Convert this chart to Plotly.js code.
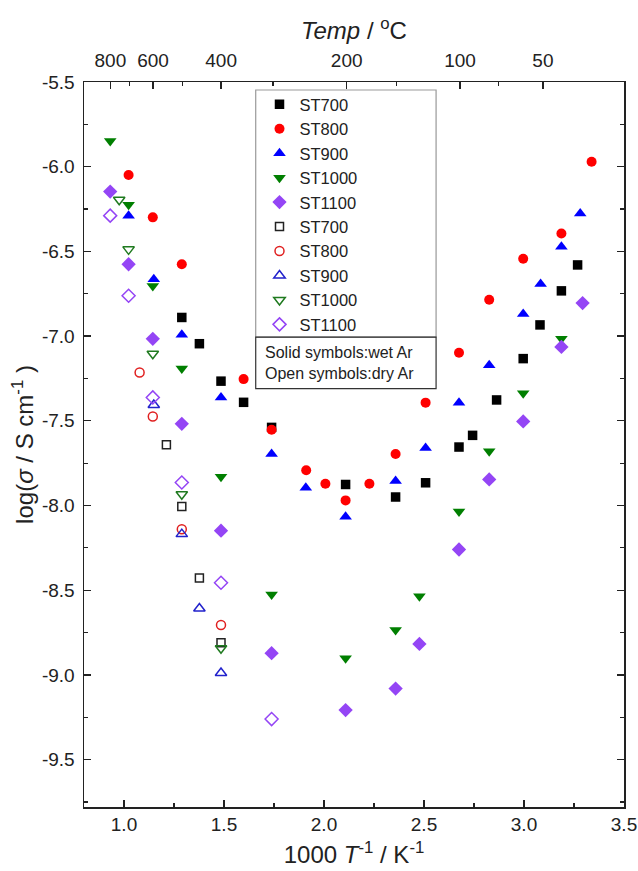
<!DOCTYPE html>
<html>
<head>
<meta charset="utf-8">
<script src="https://cdn.plot.ly/plotly-3.0.1.min.js"></script>
<style>
  html, body { margin: 0; padding: 0; background: #fff; }
  #chart { width: 638px; height: 871px; }
</style>
</head>
<body>
<div id="chart"></div>
<script>
// ---- Data (1000/T in K^-1, log conductivity in S/cm) ----
// Solid symbols: wet Ar
const st700_wet_x  = [1.289, 1.377, 1.485, 1.598, 1.738, 2.108, 2.358, 2.508, 2.675, 2.743, 2.863, 2.996, 3.080, 3.187, 3.268];
const st700_wet_y  = [-6.89, -7.045, -7.266, -7.391, -7.539, -7.876, -7.950, -7.866, -7.655, -7.586, -7.377, -7.133, -6.934, -6.733, -6.580];

const st800_wet_x  = [1.023, 1.144, 1.289, 1.598, 1.738, 1.911, 2.007, 2.108, 2.227, 2.358, 2.508, 2.675, 2.826, 2.996, 3.187, 3.338];
const st800_wet_y  = [-6.049, -6.299, -6.576, -7.254, -7.553, -7.792, -7.872, -7.970, -7.872, -7.696, -7.393, -7.098, -6.785, -6.543, -6.394, -5.971];

const st900_wet_x  = [1.023, 1.149, 1.289, 1.485, 1.738, 1.909, 2.108, 2.358, 2.508, 2.675, 2.826, 2.996, 3.083, 3.187, 3.281];
const st900_wet_y  = [-6.289, -6.664, -6.992, -7.363, -7.696, -7.895, -8.067, -7.856, -7.661, -7.393, -7.172, -6.869, -6.693, -6.472, -6.277];

const st1000_wet_x = [0.931, 1.023, 1.144, 1.289, 1.485, 1.738, 2.108, 2.358, 2.477, 2.675, 2.826, 2.996, 3.187];
const st1000_wet_y = [-5.848, -6.224, -6.705, -7.192, -7.831, -8.525, -8.902, -8.735, -8.536, -8.036, -7.680, -7.338, -7.016];

const st1100_wet_x = [0.931, 1.023, 1.144, 1.289, 1.485, 1.738, 2.108, 2.358, 2.477, 2.675, 2.826, 2.996, 3.187, 3.293];
const st1100_wet_y = [-6.147, -6.576, -7.016, -7.518, -8.149, -8.872, -9.208, -9.081, -8.817, -8.260, -7.846, -7.504, -7.064, -6.805];

// Open symbols: dry Ar
const st700_dry_x  = [1.212, 1.289, 1.377, 1.485];
const st700_dry_y  = [-7.641, -8.006, -8.428, -8.810];

const st800_dry_x  = [1.078, 1.144, 1.289, 1.485];
const st800_dry_y  = [-7.215, -7.475, -8.140, -8.706];

const st900_dry_x  = [1.149, 1.289, 1.377, 1.485];
const st900_dry_y  = [-7.407, -8.169, -8.608, -8.989];

const st1000_dry_x = [0.976, 1.023, 1.144, 1.289, 1.485];
const st1000_dry_y = [-6.195, -6.488, -7.104, -7.934, -8.843];

const st1100_dry_x = [0.931, 1.023, 1.144, 1.289, 1.485, 1.738];
const st1100_dry_y = [-6.289, -6.762, -7.362, -7.864, -8.456, -9.261];

// ---- Tick labels ----
const xTickVals = [1.0, 1.5, 2.0, 2.5, 3.0, 3.5];
const xTickText = ['1.0', '1.5', '2.0', '2.5', '3.0', '3.5'];
const yTickVals = [-5.5, -6.0, -6.5, -7.0, -7.5, -8.0, -8.5, -9.0, -9.5];
const yTickText = ['-5.5', '-6.0', '-6.5', '-7.0', '-7.5', '-8.0', '-8.5', '-9.0', '-9.5'];
const tempMajor = [800, 600, 400, 200, 100, 50];   // top axis labels (°C)
const tempMinor = [700, 500, 300, 150, 75];

const toInvT = t => 1000 / (t + 273.15);

const FONT = 'Arial, "Liberation Sans", sans-serif';
const colors = {
  black: '#000000', red: '#FF0000', blue: '#0000FF', green: '#007F00', purple: '#9445F5',
  blackO: '#222222', redO: '#E02020', blueO: '#2222CC', greenO: '#1F7A1F', purpleO: '#9445F5'
};

function solid(name, x, y, symbol, color, size) {
  return { type: 'scatter', mode: 'markers', name: name, x: x, y: y,
    marker: { symbol: symbol, color: color, size: size, line: { width: 0 } }, hoverinfo: 'x+y' };
}
function open(name, x, y, symbol, color, size) {
  return { type: 'scatter', mode: 'markers', name: name, x: x, y: y,
    marker: { symbol: symbol + '-open', color: color, size: size, line: { color: color, width: 1.5 } }, hoverinfo: 'x+y' };
}

const traces = [
  solid('ST700', st700_wet_x, st700_wet_y, 'square', colors.black, 9.5),
  solid('ST800', st800_wet_x, st800_wet_y, 'circle', colors.red, 10),
  solid('ST900', st900_wet_x, st900_wet_y, 'triangle-up', colors.blue, 11),
  solid('ST1000', st1000_wet_x, st1000_wet_y, 'triangle-down', colors.green, 11),
  solid('ST1100', st1100_wet_x, st1100_wet_y, 'diamond', colors.purple, 11),
  open('ST700', st700_dry_x, st700_dry_y, 'square', colors.blackO, 8),
  open('ST800', st800_dry_x, st800_dry_y, 'circle', colors.redO, 9),
  open('ST900', st900_dry_x, st900_dry_y, 'triangle-up', colors.blueO, 10),
  open('ST1000', st1000_dry_x, st1000_dry_y, 'triangle-down', colors.greenO, 10),
  open('ST1100', st1100_dry_x, st1100_dry_y, 'diamond', colors.purpleO, 10),
  { type: 'scatter', mode: 'markers', x: tempMajor.map(toInvT), y: tempMajor.map(() => null),
    xaxis: 'x2', yaxis: 'y', showlegend: false, hoverinfo: 'skip', marker: { opacity: 0 } }
];

const X_RANGE = [0.8, 3.5];
const Y_RANGE = [-9.78, -5.5];

const axisCommon = {
  showline: true, linecolor: '#222', linewidth: 1.5,
  showgrid: false, zeroline: false,
  ticks: 'inside', ticklen: 7, tickwidth: 1.3, tickcolor: '#222',
  tickfont: { family: FONT, size: 19, color: '#222' }
};

const layout = {
  width: 638, height: 871,
  margin: { l: 84, r: 14, t: 82, b: 64 },
  paper_bgcolor: '#fff', plot_bgcolor: '#fff',
  font: { family: FONT, color: '#222' },
  showlegend: true,
  legend: {
    x: 0.325, y: 0.993, xanchor: 'left', yanchor: 'top',
    bgcolor: 'rgba(0,0,0,0)', borderwidth: 0,
    font: { family: FONT, size: 16.5, color: '#222' },
    tracegroupgap: 0
  },
  xaxis: Object.assign({}, axisCommon, {
    range: X_RANGE, mirror: true,
    tickmode: 'array', tickvals: xTickVals, ticktext: xTickText,
    minor: { dtick: 0.25, tick0: 0, ticks: 'inside', ticklen: 4, tickwidth: 1.2, tickcolor: '#222' },
    title: { text: '1000 <i>T</i><sup>-1</sup> / K<sup>-1</sup>', font: { family: FONT, size: 24, color: '#222' }, standoff: 12 }
  }),
  xaxis2: Object.assign({}, axisCommon, {
    range: X_RANGE, overlaying: 'x', side: 'top', anchor: 'y',
    tickmode: 'array', tickvals: tempMajor.map(toInvT), ticktext: tempMajor.map(String),
    minor: { tickmode: 'array', tickvals: tempMinor.map(toInvT), ticks: 'inside', ticklen: 4, tickwidth: 1.2, tickcolor: '#222' },
    ticklabelstandoff: 6,
    title: { text: '<i>Temp</i> / <sup>o</sup>C', font: { family: FONT, size: 24, color: '#222' }, standoff: 3 }
  }),
  yaxis: Object.assign({}, axisCommon, {
    range: Y_RANGE, mirror: 'ticks',
    tickmode: 'array', tickvals: yTickVals, ticktext: yTickText,
    minor: { dtick: 0.25, tick0: 0, ticks: 'inside', ticklen: 4, tickwidth: 1.2, tickcolor: '#222' },
    ticklabelstandoff: 4,
    title: { text: 'log(<i>σ</i> / S cm<sup>-1</sup> )', font: { family: FONT, size: 24, color: '#222' }, standoff: 1 }
  }),
  shapes: [
    { type: 'rect', xref: 'paper', yref: 'paper', x0: 0.318, x1: 0.652, y0: 0.648, y1: 0.989,
      line: { color: '#999', width: 1.2 }, fillcolor: 'rgba(0,0,0,0)', layer: 'below' },
    { type: 'rect', xref: 'paper', yref: 'paper', x0: 0.318, x1: 0.652, y0: 0.577, y1: 0.648,
      line: { color: '#333', width: 1.2 }, fillcolor: 'rgba(0,0,0,0)', layer: 'below' }
  ],
  annotations: [
    { xref: 'paper', yref: 'paper', x: 0.332, y: 0.6125, xanchor: 'left', yanchor: 'middle',
      text: 'Solid symbols:wet Ar<br>Open symbols:dry Ar', align: 'left', showarrow: false,
      font: { family: FONT, size: 16, color: '#222' } }
  ]
};

Plotly.newPlot('chart', traces, layout, { displayModeBar: false, staticPlot: true });
</script>
</body>
</html>
